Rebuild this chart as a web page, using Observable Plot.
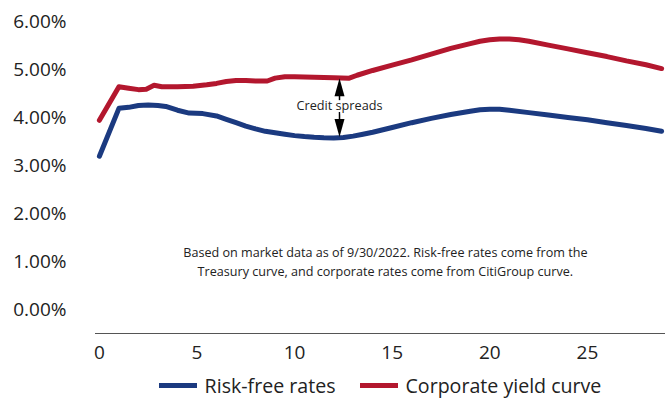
<!DOCTYPE html>
<html>
<head>
<meta charset="utf-8">
<script src="https://cdn.jsdelivr.net/npm/d3@7"></script>
<script src="https://cdn.jsdelivr.net/npm/@observablehq/plot@0.6"></script>
<style>
  body { margin: 0; background: #fff; font-family: "Open Sans", sans-serif; }
  #chart { width: 665px; }
  .legend { display: flex; justify-content: center; align-items: center; padding-left: 95px; height: 31px; font-size: 19.6px; color: #222; }
  .item { display: flex; align-items: center; margin: 0 12px; }
  .sw { width: 38px; height: 5px; margin-right: 8px; }
</style>
</head>
<body>
<div id="chart"></div>
<script>
// Maturity (years) and rates (%)
const riskFreeT = [0, 1.0, 1.5, 2.0, 2.5, 3.0, 3.4, 4.0, 4.6, 5.3, 6.0, 6.5, 7.0, 7.5, 8.0, 8.5, 9.0, 9.5, 10, 10.5, 11, 11.5, 12, 12.5, 13, 13.5, 14, 15, 16, 17, 18, 19, 19.5, 20, 20.5, 21, 22, 23, 24, 25, 26, 27, 28, 28.8];
const riskFreeV = [3.2, 4.2, 4.22, 4.26, 4.27, 4.26, 4.24, 4.16, 4.1, 4.09, 4.04, 3.97, 3.9, 3.83, 3.77, 3.72, 3.69, 3.66, 3.63, 3.61, 3.595, 3.585, 3.58, 3.59, 3.62, 3.66, 3.7, 3.8, 3.9, 3.99, 4.07, 4.14, 4.17, 4.18, 4.18, 4.16, 4.11, 4.06, 4.01, 3.96, 3.9, 3.84, 3.78, 3.72];
const corpT = [0, 1.0, 1.5, 2.0, 2.4, 2.8, 3.2, 4.0, 4.8, 5.5, 6.0, 6.5, 7.0, 7.5, 8.0, 8.6, 9.0, 9.5, 10, 11, 12, 12.8, 13.2, 14, 15, 16, 17, 18, 19, 19.5, 20, 20.5, 21, 21.5, 22, 23, 24, 25, 26, 27, 28, 28.8];
const corpV = [3.95, 4.65, 4.62, 4.59, 4.6, 4.68, 4.65, 4.65, 4.66, 4.69, 4.72, 4.76, 4.78, 4.78, 4.77, 4.77, 4.83, 4.86, 4.86, 4.85, 4.84, 4.83, 4.89, 4.99, 5.1, 5.21, 5.33, 5.45, 5.55, 5.6, 5.63, 5.645, 5.645, 5.63, 5.6, 5.52, 5.44, 5.36, 5.28, 5.19, 5.11, 5.03];
const xTicks = [0, 5, 10, 15, 20, 25];
const yTicks = [0, 1, 2, 3, 4, 5, 6];
const seriesNames = ["Risk-free rates", "Corporate yield curve"];
const seriesColors = ["#1b3a80", "#b3172e"];
// Credit spread annotation
const spreadX = 12.3;
const spreadLow = 3.6;
const spreadHigh = 4.83;
const spreadLabel = "Credit spreads";
const spreadLabelY = 4.24;
const noteLines = ["Based on market data as of 9/30/2022. Risk-free rates come from the", "Treasury curve, and corporate rates come from CitiGroup curve."];
const noteX = 14.65;
const noteY = 1.02;

const rf = riskFreeT.map((t, i) => ({t, v: riskFreeV[i], s: seriesNames[0]}));
const cp = corpT.map((t, i) => ({t, v: corpV[i], s: seriesNames[1]}));

const headUp = { draw(ctx) { ctx.moveTo(0, 0); ctx.lineTo(-5, 18); ctx.lineTo(5, 18); ctx.closePath(); } };

const chart = Plot.plot({
  width: 665,
  height: 370,
  marginLeft: 95,
  marginRight: 0,
  marginTop: 12,
  marginBottom: 37,
  style: { fontFamily: "Open Sans, sans-serif", color: "#222", background: "#fff" },
  x: { domain: [-0.2, 29.0], ticks: xTicks, tickSize: 0, tickPadding: 12, label: null },
  y: { domain: [-0.5, 6.2], ticks: yTicks, tickSize: 0, tickPadding: 29, label: null, tickFormat: d => d.toFixed(2) + "%" },
  marks: [
    Plot.axisX({ ticks: xTicks, tickSize: 0, tickPadding: 12, fontSize: 19, label: null }),
    Plot.axisY({ ticks: yTicks, tickSize: 0, tickPadding: 29, fontSize: 19, label: null, tickFormat: d => d.toFixed(2) + "%" }),
    Plot.ruleY([-0.5], { stroke: "#555", strokeWidth: 1.2 }),
    Plot.line(rf, { x: "t", y: "v", stroke: seriesColors[0], strokeWidth: 5, strokeLinejoin: "round" }),
    Plot.line(cp, { x: "t", y: "v", stroke: seriesColors[1], strokeWidth: 5, strokeLinejoin: "round" }),
    Plot.ruleX([spreadX], { y1: spreadLabelY + 0.12, y2: spreadHigh - 0.2, stroke: "#000", strokeWidth: 1.5 }),
    Plot.ruleX([spreadX], { y1: spreadLow + 0.2, y2: spreadLabelY - 0.12, stroke: "#000", strokeWidth: 1.5 }),
    Plot.dot([{x: spreadX, y: spreadHigh}], { x: "x", y: "y", symbol: headUp, fill: "#000", stroke: null, r: 3 }),
    Plot.dot([{x: spreadX, y: spreadLow}], { x: "x", y: "y", symbol: headUp, fill: "#000", stroke: null, r: 3, rotate: 180 }),
    Plot.text([spreadLabel], { x: spreadX, y: spreadLabelY, text: d => d, fontSize: 12.7, fill: "#222", stroke: "#fff", strokeWidth: 4 }),
    Plot.text([noteLines.join("\n")], { x: noteX, y: noteY, text: d => d, fontSize: 12.6, lineHeight: 1.5, fill: "#222" })
  ]
});
document.getElementById("chart").appendChild(chart);

const legend = document.createElement("div");
legend.className = "legend";
seriesNames.forEach((n, i) => {
  const it = document.createElement("div");
  it.className = "item";
  const sw = document.createElement("div");
  sw.className = "sw";
  sw.style.background = seriesColors[i];
  const lab = document.createElement("span");
  lab.textContent = n;
  it.appendChild(sw); it.appendChild(lab);
  legend.appendChild(it);
});
document.getElementById("chart").appendChild(legend);
</script>
</body>
</html>
